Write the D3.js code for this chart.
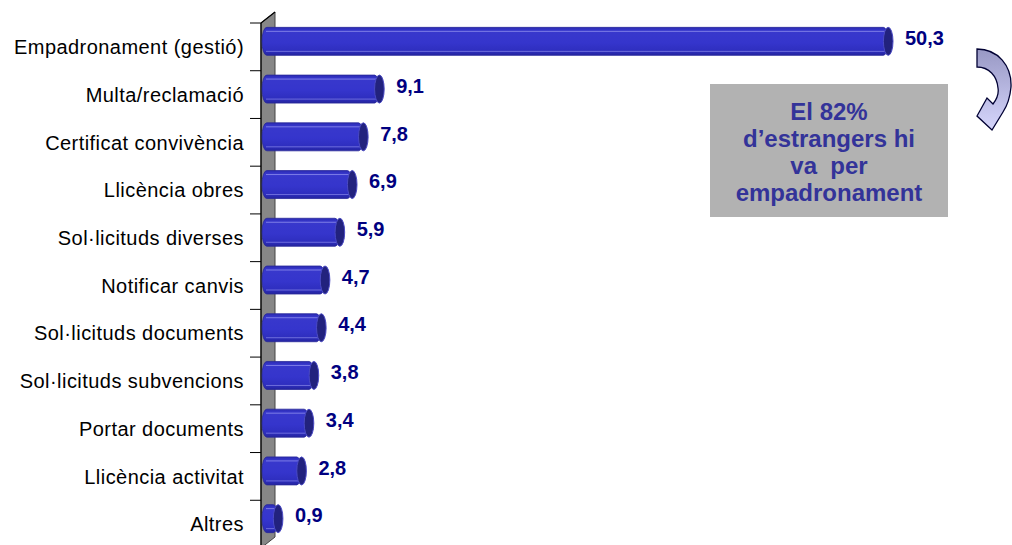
<!DOCTYPE html>
<html>
<head>
<meta charset="utf-8">
<script src="https://cdn.jsdelivr.net/npm/d3@7/dist/d3.min.js"></script>
<style>
  html, body { margin: 0; padding: 0; background: #ffffff; }
  svg { display: block; }
  text { font-family: "Liberation Sans", Arial, sans-serif; }
</style>
</head>
<body>
<svg id="chart" width="1012" height="545"></svg>
<script>
// Tràmits realitzats (%)
const categories = [
  "Empadronament (gestió)",
  "Multa/reclamació",
  "Certificat convivència",
  "Llicència obres",
  "Sol·licituds diverses",
  "Notificar canvis",
  "Sol·licituds documents",
  "Sol·licituds subvencions",
  "Portar documents",
  "Llicència activitat",
  "Altres"
];
const values = [50.3, 9.1, 7.8, 6.9, 5.9, 4.7, 4.4, 3.8, 3.4, 2.8, 0.9];
const valueLabels = ["50,3", "9,1", "7,8", "6,9", "5,9", "4,7", "4,4", "3,8", "3,4", "2,8", "0,9"];
const noteLines = ["El 82%", "d\u2019estrangers hi", "va  per", "empadronament"];

const svg = d3.select("#chart");
const defs = svg.append("defs");

// Cylinder body shading
const gBody = defs.append("linearGradient").attr("id", "barBody")
  .attr("x1", 0).attr("y1", 0).attr("x2", 0).attr("y2", 1);
gBody.append("stop").attr("offset", "0%").attr("stop-color", "#2a2ab4");
gBody.append("stop").attr("offset", "12%").attr("stop-color", "#3838cc");
gBody.append("stop").attr("offset", "55%").attr("stop-color", "#3535cc");
gBody.append("stop").attr("offset", "85%").attr("stop-color", "#2e2ebe");
gBody.append("stop").attr("offset", "100%").attr("stop-color", "#24249e");

// Arrow fill
const gArrow = defs.append("linearGradient").attr("id", "arrowFill")
  .attr("x1", 0).attr("y1", 0).attr("x2", 0).attr("y2", 1);
gArrow.append("stop").attr("offset", "0%").attr("stop-color", "#9898c4");
gArrow.append("stop").attr("offset", "100%").attr("stop-color", "#d6d6fc");

// Scales
const x = d3.scaleLinear().domain([0, 60]).range([267, 267 + 12.35 * 60]);
const y = d3.scaleBand().domain(categories).range([23, 548]).padding(0);

const wallLeft = 261, depthX = 14, depthY = 11;

// Side wall of the category axis
svg.append("path")
  .attr("d", `M${wallLeft},${y.range()[0]} L${wallLeft + depthX},${y.range()[0] - depthY} ` +
             `L${wallLeft + depthX},${y.range()[1] - depthY} L${wallLeft},${y.range()[1]} Z`)
  .attr("fill", "#878787")
  .attr("stroke", "#444444")
  .attr("stroke-width", 1);
svg.append("line")
  .attr("x1", wallLeft).attr("x2", wallLeft + depthX)
  .attr("y1", y.range()[0]).attr("y2", y.range()[0] - depthY)
  .attr("stroke", "#000").attr("stroke-width", 1.2);
svg.append("line")
  .attr("x1", wallLeft).attr("x2", wallLeft)
  .attr("y1", y.range()[0]).attr("y2", y.range()[1])
  .attr("stroke", "#000").attr("stroke-width", 1.2);

// Tick marks between categories
const boundaries = categories.map(c => y(c)).concat([y.range()[1]]);
svg.append("g").selectAll("line").data(boundaries).join("line")
  .attr("x1", 250).attr("x2", wallLeft)
  .attr("y1", d => d).attr("y2", d => d)
  .attr("stroke", "#000").attr("stroke-width", 1);

// Category labels
svg.append("g").selectAll("text").data(categories).join("text")
  .attr("x", 244)
  .attr("y", d => y(d) + y.bandwidth() / 2)
  .attr("dy", "0.36em")
  .attr("text-anchor", "end")
  .attr("font-size", 20)
  .attr("letter-spacing", 0.45)
  .attr("fill", "#000")
  .text(d => d);

// Cylindrical bars
const barH = 28, capRx = 4.8, lift = 5.5;
const rows = categories.map((c, i) => ({ c, v: values[i], label: valueLabels[i] }));
const bars = svg.append("g").selectAll("g").data(rows).join("g")
  .attr("transform", d => `translate(0,${y(d.c) + y.bandwidth() / 2 - lift - barH / 2})`);

bars.append("rect")
  .attr("x", x(0) - 5)
  .attr("y", 0)
  .attr("width", d => x(d.v) - (x(0) - 5))
  .attr("height", barH)
  .attr("rx", capRx).attr("ry", barH / 2)
  .attr("fill", "url(#barBody)")
  .attr("stroke", "#2a2a9a")
  .attr("stroke-width", 0.8);
// highlight lines along the cylinder
bars.append("line")
  .attr("x1", x(0) - 1).attr("x2", d => x(d.v))
  .attr("y1", 4).attr("y2", 4)
  .attr("stroke", "#7c7ce6").attr("stroke-width", 1);
bars.append("line")
  .attr("x1", x(0) - 1).attr("x2", d => x(d.v))
  .attr("y1", barH - 4).attr("y2", barH - 4)
  .attr("stroke", "#6d6ddc").attr("stroke-width", 1);
// end cap
bars.append("ellipse")
  .attr("cx", d => x(d.v))
  .attr("cy", barH / 2)
  .attr("rx", capRx).attr("ry", barH / 2)
  .attr("fill", "#22227e")
  .attr("stroke", "#4a4ac4")
  .attr("stroke-width", 1);

// Value labels
bars.append("text")
  .attr("x", d => x(d.v) + capRx + 12)
  .attr("y", barH / 2 - 3.5)
  .attr("dy", "0.36em")
  .attr("font-size", 20)
  .attr("font-weight", "bold")
  .attr("fill", "#000080")
  .text(d => d.label);

// Annotation box
const note = svg.append("g").attr("transform", "translate(710,84)");
note.append("rect")
  .attr("width", 238).attr("height", 133)
  .attr("fill", "#b2b2b2");
note.append("g").selectAll("text").data(noteLines).join("text")
  .attr("x", 119)
  .attr("y", (d, i) => 36 + i * 27)
  .attr("text-anchor", "middle")
  .attr("font-size", 24)
  .attr("font-weight", "bold")
  .attr("fill", "#333399")
  .style("white-space", "pre")
  .text(d => d);

// Curved arrow pointing back to the box
svg.append("path")
  .attr("d",
    "M977,49 C998,49 1012,66 1011,87 C1010,98 1007,106 1003,112 " +
    "L992,130 L977,116 L987,98 L993,104 " +
    "C997,99 999,94 998,88 C997,76 989,67 977,67 Z")
  .attr("fill", "url(#arrowFill)")
  .attr("stroke", "#000033")
  .attr("stroke-width", 1.3)
  .attr("stroke-linejoin", "miter");
</script>
</body>
</html>
